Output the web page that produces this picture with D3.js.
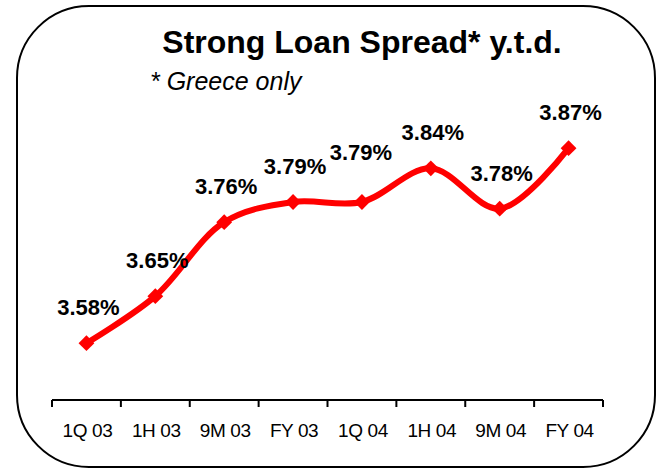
<!DOCTYPE html>
<html>
<head>
<meta charset="utf-8">
<script src="https://cdn.jsdelivr.net/npm/d3@7"></script>
<style>
  html, body { margin: 0; padding: 0; background: #fff; }
  svg { display: block; font-family: "Liberation Sans", Arial, sans-serif; }
</style>
</head>
<body>
<svg id="chart" width="656" height="469"></svg>
<script>
const categories = ["1Q 03", "1H 03", "9M 03", "FY 03", "1Q 04", "1H 04", "9M 04", "FY 04"];
const spreads = [3.58, 3.65, 3.76, 3.79, 3.79, 3.84, 3.78, 3.87];
const titleText = "Strong Loan Spread* y.t.d.";
const subtitleText = "* Greece only";

const svg = d3.select("#chart");

// rounded frame
svg.append("rect")
  .attr("x", 17).attr("y", 6)
  .attr("width", 638).attr("height", 461)
  .attr("rx", 72).attr("ry", 72)
  .attr("fill", "#fff")
  .attr("stroke", "#000")
  .attr("stroke-width", 2);

// title
svg.append("text")
  .attr("x", 362).attr("y", 53)
  .attr("text-anchor", "middle")
  .attr("font-size", 32)
  .attr("font-weight", "bold")
  .attr("fill", "#000")
  .text(titleText);

svg.append("text")
  .attr("x", 150).attr("y", 90)
  .attr("font-size", 25)
  .attr("font-style", "italic")
  .attr("fill", "#000")
  .text(subtitleText);

const x = d3.scaleBand().domain(categories).range([52, 603]).padding(0);
const y = d3.scaleLinear().domain([3.5, 3.9]).range([397, 128]);

const axisY = 400;

// axis line + boundary ticks
const gAxis = svg.append("g");
gAxis.append("line")
  .attr("x1", x.range()[0]).attr("x2", x.range()[1])
  .attr("y1", axisY).attr("y2", axisY)
  .attr("stroke", "#000").attr("stroke-width", 2);
const boundaries = categories.map(c => x(c)).concat([x.range()[1]]);
gAxis.selectAll("line.tick").data(boundaries).enter().append("line")
  .attr("class", "tick")
  .attr("x1", d => d).attr("x2", d => d)
  .attr("y1", axisY).attr("y2", axisY + 7)
  .attr("stroke", "#000").attr("stroke-width", 2);
gAxis.selectAll("text").data(categories).enter().append("text")
  .attr("x", d => x(d) + x.bandwidth() / 2 + 1)
  .attr("y", 437)
  .attr("text-anchor", "middle")
  .attr("font-size", 19)
  .attr("letter-spacing", -0.4)
  .attr("fill", "#000")
  .text(d => d);

const data = categories.map((c, i) => ({ cat: c, v: spreads[i] }));
const cx = d => x(d.cat) + x.bandwidth() / 2;

const line = d3.line()
  .x(cx)
  .y(d => y(d.v))
  .curve(d3.curveCatmullRom.alpha(0.5));

svg.append("path")
  .datum(data)
  .attr("d", line)
  .attr("fill", "none")
  .attr("stroke", "#ff0000")
  .attr("stroke-width", 6)
  .attr("stroke-linejoin", "round");

const sym = d3.symbol().type(d3.symbolSquare).size(125);
svg.selectAll("path.marker").data(data).enter().append("path")
  .attr("class", "marker")
  .attr("d", sym)
  .attr("transform", d => `translate(${cx(d)},${y(d.v)}) rotate(45)`)
  .attr("fill", "#ff0000");

// value labels
const lift = d => (d.cat === "1Q 04" ? 42 : 28);
svg.selectAll("text.val").data(data).enter().append("text")
  .attr("class", "val")
  .attr("x", d => cx(d) + (d.cat === "1Q 04" ? -1 : 2))
  .attr("y", d => y(d.v) - lift(d))
  .attr("text-anchor", "middle")
  .attr("font-size", 22)
  .attr("font-weight", "bold")
  .attr("fill", "#000")
  .text(d => d.v.toFixed(2) + "%");
</script>
</body>
</html>
